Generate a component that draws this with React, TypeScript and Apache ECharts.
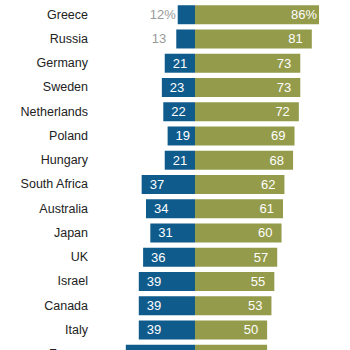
import React, { useEffect, useRef } from "react";
import * as echarts from "echarts";

const countries = [
  "Greece", "Russia", "Germany", "Sweden", "Netherlands", "Poland", "Hungary",
  "South Africa", "Australia", "Japan", "UK", "Israel", "Canada", "Italy", "France",
];
const blueValues = [12, 13, 21, 23, 22, 19, 21, 37, 34, 31, 36, 39, 39, 39, 48];
const greenValues = [86, 81, 73, 73, 72, 69, 68, 62, 61, 60, 57, 55, 53, 50, 50];

const BLUE = "#0f5b8c";
const GREEN = "#949b4b";

export default function App() {
  const ref = useRef<HTMLDivElement>(null);
  useEffect(() => {
    if (!ref.current) return;
    const chart = echarts.init(ref.current, undefined, { renderer: "svg" });
    const blueData = blueValues.map((v, i) => {
      if (i === 0) {
        return {
          value: -v,
          label: { position: "left", distance: 2, color: "#9a9a9a", formatter: v + "%" },
        };
      }
      if (i === 1) {
        return {
          value: -v,
          label: { position: "left", distance: 10, color: "#9a9a9a", formatter: String(v) },
        };
      }
      return { value: -v };
    });
    const greenData = greenValues.map((v, i) => {
      if (i === 0) {
        return { value: v, label: { distance: 2, formatter: v + "%" } };
      }
      return { value: v };
    });
    chart.setOption({
      animation: false,
      grid: { left: 108.5, width: 216.3, top: 2.6, height: 363.75, containLabel: false },
      xAxis: {
        type: "value",
        min: -60,
        max: 90,
        show: false,
      },
      yAxis: {
        type: "category",
        data: countries,
        inverse: true,
        axisLine: { show: false, onZero: false },
        axisTick: { show: false },
        splitLine: { show: false },
        axisLabel: {
          margin: 20.5,
          fontFamily: "Liberation Sans, Arial, sans-serif",
          fontSize: 12.5,
          color: "#222",
        },
      },
      series: [
        {
          type: "bar",
          stack: "s",
          data: blueData,
          barWidth: 19,
          itemStyle: { color: BLUE },
          label: {
            show: true,
            position: "insideLeft",
            distance: 8,
            color: "#fff",
            fontFamily: "Liberation Sans, Arial, sans-serif",
            fontSize: 13,
            formatter: (p: any) => String(Math.abs(p.value)),
          },
        },
        {
          type: "bar",
          stack: "s",
          data: greenData,
          barWidth: 19,
          itemStyle: { color: GREEN },
          label: {
            show: true,
            position: "insideRight",
            distance: 9,
            color: "#fff",
            fontFamily: "Liberation Sans, Arial, sans-serif",
            fontSize: 13,
          },
        },
      ],
    });
    return () => chart.dispose();
  }, []);
  return (
    <div
      ref={ref}
      style={{ position: "fixed", left: 0, top: 0, width: 350, height: 380, background: "#fff" }}
    />
  );
}
